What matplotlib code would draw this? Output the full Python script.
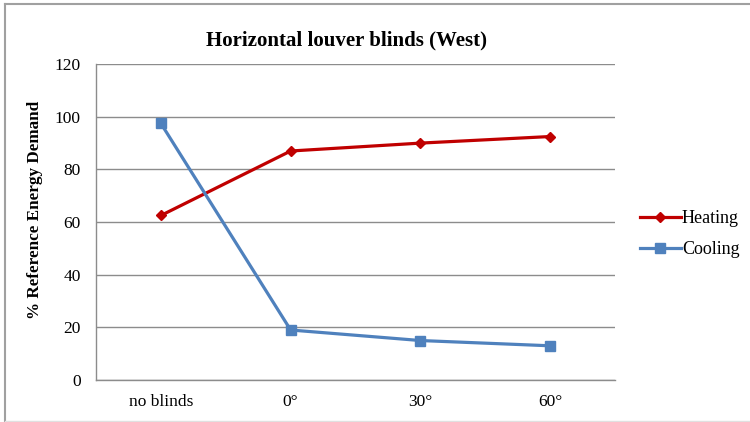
import matplotlib
matplotlib.use("Agg")
import matplotlib.pyplot as plt
from matplotlib.lines import Line2D

categories = ["no blinds", "0°", "30°", "60°"]
heating = [62.5, 87, 90, 92.5]
cooling = [97.5, 19, 15, 13]
yticks = [0, 20, 40, 60, 80, 100, 120]

plt.rcParams["font.family"] = ["Liberation Serif", "DejaVu Serif"]

fig = plt.figure(figsize=(7.5, 4.22), dpi=100)
ax = fig.add_axes([0.128, 0.0995, 0.692, 0.7485])

x = list(range(len(categories)))
red = "#C00000"
blue = "#4F81BD"
ax.plot(x, heating, color=red, lw=2.3, marker="D", ms=5.5, mfc=red, mec=red, zorder=3)
ax.plot(x, cooling, color=blue, lw=2.3, marker="s", ms=7.5, mfc=blue, mec=blue, zorder=3)

ax.set_xlim(-0.5, len(categories) - 0.5)
ax.set_ylim(0, 120)
ax.set_yticks(yticks)
ax.set_xticks(x)
ax.set_xticklabels(categories)
ax.tick_params(axis="both", length=0, labelsize=12.5, colors="black")
ax.tick_params(axis="y", pad=11)
ax.tick_params(axis="x", pad=10)
ax.yaxis.grid(True, color="#8c8c8c", lw=1.0)
ax.set_axisbelow(True)
for s in ["top", "right"]:
    ax.spines[s].set_visible(False)
for s in ["left", "bottom"]:
    ax.spines[s].set_color("#8c8c8c")
    ax.spines[s].set_linewidth(1.0)

ax.set_ylabel("% Reference Energy Demand", fontsize=12.3, fontweight="bold")
ax.yaxis.set_label_coords(-0.102, 0.54)
fig.text(0.462, 0.905, "Horizontal louver blinds (West)", ha="center", va="center",
         fontsize=15, fontweight="bold")

handles = [
    Line2D([], [], color=red, lw=2.3, marker="D", ms=5.5, mfc=red, mec=red),
    Line2D([], [], color=blue, lw=2.3, marker="s", ms=7.5, mfc=blue, mec=blue),
]
fig.legend(handles, ["Heating", "Cooling"], loc="center left",
           bbox_to_anchor=(0.831, 0.445), frameon=False, fontsize=13,
           handlelength=2.3, handletextpad=0.05, labelspacing=0.75)

# outer chart frame
fig.add_artist(Line2D([0.007, 1.0], [0.991, 0.991], transform=fig.transFigure,
                      color="#a0a0a0", lw=1.5))
fig.add_artist(Line2D([0.007, 0.007], [0.0, 0.991], transform=fig.transFigure,
                      color="#a0a0a0", lw=1.5))
fig.add_artist(Line2D([0.007, 1.0], [0.002, 0.002], transform=fig.transFigure,
                      color="#e0e0e0", lw=1.0))

fig.savefig("out.png", dpi=100, facecolor="white")
